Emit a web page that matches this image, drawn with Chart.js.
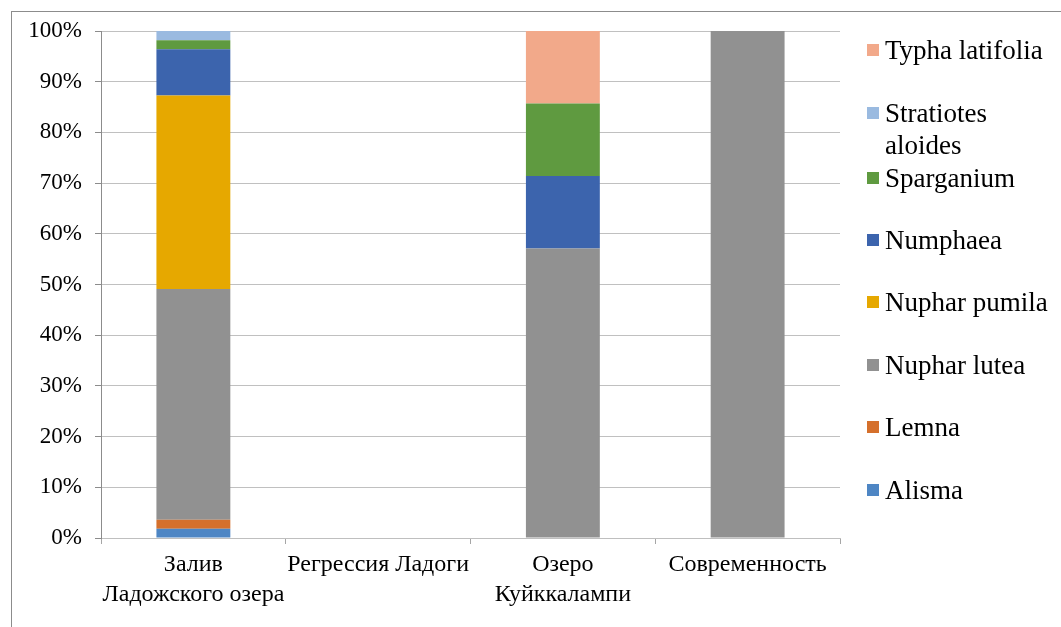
<!DOCTYPE html>
<html>
<head>
<meta charset="utf-8">
<script src="https://cdn.jsdelivr.net/npm/chart.js@4.4.1/dist/chart.umd.min.js"></script>
<style>
  html, body { margin: 0; padding: 0; background: #fff; overflow: hidden; }
  #wrap { position: relative; width: 1061px; height: 627px; }
  #frame { position: absolute; left: 11px; top: 11px; width: 1100px; height: 700px;
           border-left: 1px solid #8c8c8c; border-top: 1px solid #8c8c8c; box-sizing: border-box; }
  canvas { position: absolute; left: 0; top: 0; }
  #legend { position: absolute; left: 0; top: 0; font-family: "Liberation Serif", "Times New Roman", serif;
            font-size: 27px; color: #000; }
  .item { position: absolute; left: 867px; display: flex; align-items: flex-start; line-height: 32px; }
  .sw { width: 12px; height: 12px; margin-top: 10px; margin-right: 6px; flex: none; }
</style>
</head>
<body>
<div id="wrap">
  <div id="frame"></div>
  <canvas id="c" width="1061" height="627"></canvas>
  <div id="legend"></div>
</div>
<script>
// Periods (x categories)
const categories = [
  ['Залив', 'Ладожского озера'],
  'Регрессия Ладоги',
  ['Озеро', 'Куйккалампи'],
  'Современность'
];

// Share of each taxon per period, %
const alisma        = [1.8, 0, 0, 0];
const lemna         = [1.8, 0, 0, 0];
const nupharLutea   = [45.5, 0, 57.1, 100];
const nupharPumila  = [38.2, 0, 0, 0];
const numphaea      = [9.1, 0, 14.3, 0];
const sparganium    = [1.8, 0, 14.3, 0];
const stratiotes    = [1.8, 0, 0, 0];
const typha         = [0, 0, 14.3, 0];

const yTicks = [0, 10, 20, 30, 40, 50, 60, 70, 80, 90, 100];

const series = [
  { label: 'Alisma',             data: alisma,       color: '#4E86C4' },
  { label: 'Lemna',              data: lemna,        color: '#D5702C' },
  { label: 'Nuphar lutea',       data: nupharLutea,  color: '#919191' },
  { label: 'Nuphar pumila',      data: nupharPumila, color: '#E6A800' },
  { label: 'Numphaea',           data: numphaea,     color: '#3C64AD' },
  { label: 'Sparganium',         data: sparganium,   color: '#5F9A40' },
  { label: 'Stratiotes aloides', data: stratiotes,   color: '#9ABAE0' },
  { label: 'Typha latifolia',    data: typha,        color: '#F2A98A' }
];

const serif = '"Liberation Serif", "Times New Roman", serif';
const xFont = { family: serif, size: 24, lineHeight: 1.25 };
const yFont = { family: serif, size: 23, lineHeight: 1.2 };

new Chart(document.getElementById('c'), {
  type: 'bar',
  data: {
    labels: categories,
    datasets: series.map(s => ({
      label: s.label,
      data: s.data,
      backgroundColor: s.color,
      borderWidth: 0,
      categoryPercentage: 1,
      barPercentage: 0.4
    }))
  },
  options: {
    responsive: false,
    animation: false,
    devicePixelRatio: 1,
    layout: { padding: { left: 0, top: 31, right: 221, bottom: 0 } },
    plugins: { legend: { display: false }, tooltip: { enabled: false } },
    scales: {
      x: {
        stacked: true,
        grid: { display: true, offset: true, drawOnChartArea: false, color: '#A6A6A6', tickLength: 6, lineWidth: 1 },
        border: { color: '#BFBFBF', width: 1 },
        ticks: { color: '#000', font: xFont, padding: 6, maxRotation: 0, autoSkip: false },
        afterFit: s => { s.height = 89; }
      },
      y: {
        stacked: true,
        min: 0, max: 100,
        afterBuildTicks: s => { s.ticks = yTicks.map(v => ({ value: v })); },
        grid: { color: '#C0C0C0', tickLength: 6, lineWidth: 1, tickColor: '#8c8c8c' },
        border: { color: '#8c8c8c', width: 1 },
        ticks: { color: '#000', font: yFont, padding: 13, callback: v => v + '%' },
        afterFit: s => { s.width = 101; }
      }
    }
  }
});

// Legend, top entry first
const legendTops = [34, 97, 162, 224, 286, 349, 411, 474];
const legend = document.getElementById('legend');
series.slice().reverse().forEach((s, i) => {
  const item = document.createElement('div');
  item.className = 'item';
  item.style.top = legendTops[i] + 'px';
  const sw = document.createElement('div');
  sw.className = 'sw';
  sw.style.background = s.color;
  const tx = document.createElement('div');
  const wrapped = s.label === 'Stratiotes aloides';
  tx.style.width = wrapped ? '150px' : 'auto';
  tx.style.whiteSpace = wrapped ? 'normal' : 'nowrap';
  tx.textContent = s.label;
  item.appendChild(sw);
  item.appendChild(tx);
  legend.appendChild(item);
});
</script>
</body>
</html>
